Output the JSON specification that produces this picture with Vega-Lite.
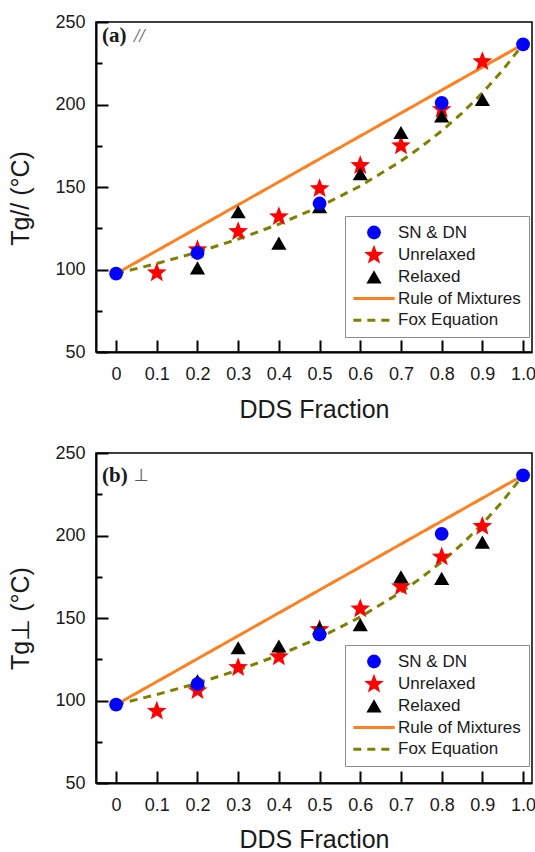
{
  "$schema": "https://vega.github.io/schema/vega-lite/v6.json",
  "background": "white",
  "padding": {"left": 8, "top": 12, "right": 0, "bottom": 0},
  "spacing": 20,
  "config": {
    "view": {"stroke": "black", "strokeWidth": 1.5},
    "axis": {
      "grid": false, "domainColor": "black", "domainWidth": 2,
      "tickColor": "black", "tickWidth": 2,
      "labelFont": "Liberation Sans", "labelFontSize": 18, "labelColor": "#1a1a1a",
      "titleFont": "Liberation Sans", "titleFontSize": 25, "titleFontWeight": "normal", "titleColor": "#1a1a1a",
      "labelFlush": false, "labelOverlap": false
    }
  },
  "resolve": {"scale": {"color": "independent"}, "legend": {"color": "independent"}},
  "datasets": {
    "a": [
      {"x": 0, "series": "Rule of Mixtures", "tg": 97.5},
      {"x": 1.0, "series": "Rule of Mixtures", "tg": 236.5},
      {"x": 0, "series": "Fox Equation", "tg": 97.5},
      {"x": 0.1, "series": "Fox Equation", "tg": 103.6},
      {"x": 0.2, "series": "Fox Equation", "tg": 110.5},
      {"x": 0.3, "series": "Fox Equation", "tg": 118.4},
      {"x": 0.4, "series": "Fox Equation", "tg": 127.5},
      {"x": 0.5, "series": "Fox Equation", "tg": 138.1},
      {"x": 0.6, "series": "Fox Equation", "tg": 150.6},
      {"x": 0.7, "series": "Fox Equation", "tg": 165.7},
      {"x": 0.75, "series": "Fox Equation", "tg": 174.4},
      {"x": 0.8, "series": "Fox Equation", "tg": 184.0},
      {"x": 0.85, "series": "Fox Equation", "tg": 194.8},
      {"x": 0.9, "series": "Fox Equation", "tg": 207.0},
      {"x": 0.95, "series": "Fox Equation", "tg": 220.8},
      {"x": 1.0, "series": "Fox Equation", "tg": 236.5},
      {"x": 0.1, "series": "Unrelaxed", "tg": 98},
      {"x": 0.2, "series": "Unrelaxed", "tg": 112},
      {"x": 0.3, "series": "Unrelaxed", "tg": 123},
      {"x": 0.4, "series": "Unrelaxed", "tg": 132},
      {"x": 0.5, "series": "Unrelaxed", "tg": 149},
      {"x": 0.6, "series": "Unrelaxed", "tg": 163},
      {"x": 0.7, "series": "Unrelaxed", "tg": 175},
      {"x": 0.8, "series": "Unrelaxed", "tg": 197},
      {"x": 0.9, "series": "Unrelaxed", "tg": 226},
      {"x": 0.2, "series": "Relaxed", "tg": 101},
      {"x": 0.3, "series": "Relaxed", "tg": 135},
      {"x": 0.4, "series": "Relaxed", "tg": 116},
      {"x": 0.5, "series": "Relaxed", "tg": 138},
      {"x": 0.6, "series": "Relaxed", "tg": 158},
      {"x": 0.7, "series": "Relaxed", "tg": 183},
      {"x": 0.8, "series": "Relaxed", "tg": 193},
      {"x": 0.9, "series": "Relaxed", "tg": 203},
      {"x": 0, "series": "SN & DN", "tg": 97.5},
      {"x": 0.2, "series": "SN & DN", "tg": 110},
      {"x": 0.5, "series": "SN & DN", "tg": 140},
      {"x": 0.8, "series": "SN & DN", "tg": 201},
      {"x": 1.0, "series": "SN & DN", "tg": 236.5}
    ],
    "b": [
      {"x": 0, "series": "Rule of Mixtures", "tg": 97.5},
      {"x": 1.0, "series": "Rule of Mixtures", "tg": 236.5},
      {"x": 0, "series": "Fox Equation", "tg": 97.5},
      {"x": 0.1, "series": "Fox Equation", "tg": 103.6},
      {"x": 0.2, "series": "Fox Equation", "tg": 110.5},
      {"x": 0.3, "series": "Fox Equation", "tg": 118.4},
      {"x": 0.4, "series": "Fox Equation", "tg": 127.5},
      {"x": 0.5, "series": "Fox Equation", "tg": 138.1},
      {"x": 0.6, "series": "Fox Equation", "tg": 150.6},
      {"x": 0.7, "series": "Fox Equation", "tg": 165.7},
      {"x": 0.75, "series": "Fox Equation", "tg": 174.4},
      {"x": 0.8, "series": "Fox Equation", "tg": 184.0},
      {"x": 0.85, "series": "Fox Equation", "tg": 194.8},
      {"x": 0.9, "series": "Fox Equation", "tg": 207.0},
      {"x": 0.95, "series": "Fox Equation", "tg": 220.8},
      {"x": 1.0, "series": "Fox Equation", "tg": 236.5},
      {"x": 0.1, "series": "Unrelaxed", "tg": 93.5},
      {"x": 0.2, "series": "Unrelaxed", "tg": 106},
      {"x": 0.3, "series": "Unrelaxed", "tg": 120},
      {"x": 0.4, "series": "Unrelaxed", "tg": 126.5},
      {"x": 0.5, "series": "Unrelaxed", "tg": 143},
      {"x": 0.6, "series": "Unrelaxed", "tg": 155.5},
      {"x": 0.7, "series": "Unrelaxed", "tg": 169},
      {"x": 0.8, "series": "Unrelaxed", "tg": 187},
      {"x": 0.9, "series": "Unrelaxed", "tg": 205.5},
      {"x": 0.2, "series": "Relaxed", "tg": 112},
      {"x": 0.3, "series": "Relaxed", "tg": 132},
      {"x": 0.4, "series": "Relaxed", "tg": 133},
      {"x": 0.5, "series": "Relaxed", "tg": 144},
      {"x": 0.6, "series": "Relaxed", "tg": 146},
      {"x": 0.7, "series": "Relaxed", "tg": 175},
      {"x": 0.8, "series": "Relaxed", "tg": 174},
      {"x": 0.9, "series": "Relaxed", "tg": 196},
      {"x": 0, "series": "SN & DN", "tg": 97.5},
      {"x": 0.2, "series": "SN & DN", "tg": 110},
      {"x": 0.5, "series": "SN & DN", "tg": 140},
      {"x": 0.8, "series": "SN & DN", "tg": 201},
      {"x": 1.0, "series": "SN & DN", "tg": 236.5}
    ]
  },
  "vconcat": [
    {
      "width": 436, "height": 330,
      "data": {"name": "a"},
      "resolve": {"axis": {"y": "independent"}},
      "layer": [
        {
          "transform": [{"filter": "datum.series === 'Rule of Mixtures' || datum.series === 'Fox Equation'"}],
          "mark": {"type": "line", "strokeWidth": 3},
          "encoding": {
            "x": {"field": "x", "type": "quantitative",
              "scale": {"domain": [-0.0494, 1.022], "nice": false, "zero": false},
              "axis": {"values": [0, 0.1, 0.2, 0.3, 0.4, 0.5, 0.6, 0.7, 0.8, 0.9, 1.0],
                "labelExpr": "datum.value === 0 ? '0' : format(datum.value, '.1f')",
                "tickSize": -12, "labelPadding": 25.5, "title": "DDS Fraction", "titlePadding": 13.5}},
            "y": {"field": "tg", "type": "quantitative",
              "scale": {"domain": [50, 250], "nice": false, "zero": false},
              "axis": {"orient": "left", "values": [75, 125, 175, 225], "tickSize": -6, "labels": false, "domain": false, "title": null}},
            "color": {"field": "series", "type": "nominal",
              "scale": {"domain": ["SN & DN", "Unrelaxed", "Relaxed", "Rule of Mixtures", "Fox Equation"],
                        "range": ["#0000ff", "#ff0000", "#000000", "#ff8020", "#808000"]},
              "legend": {
                "orient": "none", "legendX": 249, "legendY": 194, "title": null,
                "strokeColor": "#8c8c8c", "fillColor": "white", "padding": 8,
                "labelFont": "Liberation Sans", "labelFontSize": 17, "labelColor": "#1a1a1a",
                "labelOffset": 28, "rowPadding": 3.7, "symbolSize": 190, "symbolStrokeWidth": 3,
                "encode": {"symbols": {"update": {
                  "x": {"value": 21},
                  "shape": {"signal": "datum.value === 'SN & DN' ? 'circle' : datum.value === 'Unrelaxed' ? 'M0,-1.5L0.374,-0.515L1.427,-0.464L0.605,0.197L0.882,1.214L0,0.636L-0.882,1.214L-0.605,0.197L-1.427,-0.464L-0.374,-0.515Z' : datum.value === 'Relaxed' ? 'triangle-up' : 'M-3,0L3,0'"},
                  "size": {"signal": "datum.value === 'Relaxed' ? 230 : 190"},
                  "fill": {"signal": "datum.value === 'SN & DN' ? '#0000ff' : datum.value === 'Unrelaxed' ? '#ff0000' : datum.value === 'Relaxed' ? '#000000' : 'transparent'"},
                  "stroke": {"signal": "datum.value === 'Rule of Mixtures' ? '#ff8020' : datum.value === 'Fox Equation' ? '#808000' : 'transparent'"},
                  "strokeDash": {"signal": "datum.value === 'Fox Equation' ? [8, 6] : [1, 0]"},
                  "strokeWidth": {"signal": "datum.value === 'Rule of Mixtures' || datum.value === 'Fox Equation' ? 3 : 0"},
                  "opacity": {"value": 1}
                }}}
              }},
            "strokeDash": {"field": "series", "type": "nominal",
              "scale": {"domain": ["Rule of Mixtures", "Fox Equation"], "range": [[1, 0], [8, 6]]}, "legend": null}
          }
        },
        {
          "transform": [{"filter": "datum.series === 'Unrelaxed'"}],
          "mark": {"type": "point", "filled": true, "opacity": 1, "color": "#ff0000", "size": 430, "strokeWidth": 0,
                   "shape": "M0,-1L0.249,-0.343L0.951,-0.309L0.403,0.131L0.588,0.809L0,0.424L-0.588,0.809L-0.403,0.131L-0.951,-0.309L-0.249,-0.343Z"},
          "encoding": {
            "x": {"field": "x", "type": "quantitative"},
            "y": {"field": "tg", "type": "quantitative",
              "axis": {"orient": "left", "values": [50, 100, 150, 200, 250], "tickSize": -12, "labelPadding": 23, "title": "Tg// (°C)", "titlePadding": 21, "titleY": 176}}
          }
        },
        {
          "transform": [{"filter": "datum.series === 'Relaxed'"}],
          "mark": {"type": "point", "filled": true, "opacity": 1, "color": "#000000", "size": 230, "strokeWidth": 0, "shape": "triangle-up"},
          "encoding": {
            "x": {"field": "x", "type": "quantitative"},
            "y": {"field": "tg", "type": "quantitative", "axis": null}
          }
        },
        {
          "transform": [{"filter": "datum.series === 'SN & DN'"}],
          "mark": {"type": "point", "filled": true, "opacity": 1, "color": "#0000ff", "size": 190, "strokeWidth": 0, "shape": "circle"},
          "encoding": {
            "x": {"field": "x", "type": "quantitative"},
            "y": {"field": "tg", "type": "quantitative", "axis": null}
          }
        },
        {
          "data": {"values": [{"label": "(a)"}]},
          "mark": {"type": "text", "align": "left", "baseline": "middle", "font": "Liberation Serif", "fontWeight": "bold", "fontSize": 21, "color": "#1a1a1a"},
          "encoding": {
            "x": {"datum": -0.0347},
            "y": {"datum": 241.8, "axis": null},
            "text": {"field": "label"}
          }
        },
        {
          "data": {"values": [{"label": "//"}]},
          "mark": {"type": "text", "align": "left", "baseline": "middle", "font": "Liberation Serif", "fontStyle": "italic", "fontSize": 19, "color": "#555555", "dx": 32},
          "encoding": {
            "x": {"datum": -0.0347},
            "y": {"datum": 241.8, "axis": null},
            "text": {"field": "label"}
          }
        }
      ]
    },
    {
      "width": 436, "height": 330,
      "data": {"name": "b"},
      "resolve": {"axis": {"y": "independent"}},
      "layer": [
        {
          "transform": [{"filter": "datum.series === 'Rule of Mixtures' || datum.series === 'Fox Equation'"}],
          "mark": {"type": "line", "strokeWidth": 3},
          "encoding": {
            "x": {"field": "x", "type": "quantitative",
              "scale": {"domain": [-0.0494, 1.022], "nice": false, "zero": false},
              "axis": {"values": [0, 0.1, 0.2, 0.3, 0.4, 0.5, 0.6, 0.7, 0.8, 0.9, 1.0],
                "labelExpr": "datum.value === 0 ? '0' : format(datum.value, '.1f')",
                "tickSize": -12, "labelPadding": 25.5, "title": "DDS Fraction", "titlePadding": 13}},
            "y": {"field": "tg", "type": "quantitative",
              "scale": {"domain": [50, 250], "nice": false, "zero": false},
              "axis": {"orient": "left", "values": [75, 125, 175, 225], "tickSize": -6, "labels": false, "domain": false, "title": null}},
            "color": {"field": "series", "type": "nominal",
              "scale": {"domain": ["SN & DN", "Unrelaxed", "Relaxed", "Rule of Mixtures", "Fox Equation"],
                        "range": ["#0000ff", "#ff0000", "#000000", "#ff8020", "#808000"]},
              "legend": {
                "orient": "none", "legendX": 249, "legendY": 192, "title": null,
                "strokeColor": "#8c8c8c", "fillColor": "white", "padding": 8,
                "labelFont": "Liberation Sans", "labelFontSize": 17, "labelColor": "#1a1a1a",
                "labelOffset": 28, "rowPadding": 3.7, "symbolSize": 190, "symbolStrokeWidth": 3,
                "encode": {"symbols": {"update": {
                  "x": {"value": 21},
                  "shape": {"signal": "datum.value === 'SN & DN' ? 'circle' : datum.value === 'Unrelaxed' ? 'M0,-1.5L0.374,-0.515L1.427,-0.464L0.605,0.197L0.882,1.214L0,0.636L-0.882,1.214L-0.605,0.197L-1.427,-0.464L-0.374,-0.515Z' : datum.value === 'Relaxed' ? 'triangle-up' : 'M-3,0L3,0'"},
                  "size": {"signal": "datum.value === 'Relaxed' ? 230 : 190"},
                  "fill": {"signal": "datum.value === 'SN & DN' ? '#0000ff' : datum.value === 'Unrelaxed' ? '#ff0000' : datum.value === 'Relaxed' ? '#000000' : 'transparent'"},
                  "stroke": {"signal": "datum.value === 'Rule of Mixtures' ? '#ff8020' : datum.value === 'Fox Equation' ? '#808000' : 'transparent'"},
                  "strokeDash": {"signal": "datum.value === 'Fox Equation' ? [8, 6] : [1, 0]"},
                  "strokeWidth": {"signal": "datum.value === 'Rule of Mixtures' || datum.value === 'Fox Equation' ? 3 : 0"},
                  "opacity": {"value": 1}
                }}}
              }},
            "strokeDash": {"field": "series", "type": "nominal",
              "scale": {"domain": ["Rule of Mixtures", "Fox Equation"], "range": [[1, 0], [8, 6]]}, "legend": null}
          }
        },
        {
          "transform": [{"filter": "datum.series === 'Unrelaxed'"}],
          "mark": {"type": "point", "filled": true, "opacity": 1, "color": "#ff0000", "size": 430, "strokeWidth": 0,
                   "shape": "M0,-1L0.249,-0.343L0.951,-0.309L0.403,0.131L0.588,0.809L0,0.424L-0.588,0.809L-0.403,0.131L-0.951,-0.309L-0.249,-0.343Z"},
          "encoding": {
            "x": {"field": "x", "type": "quantitative"},
            "y": {"field": "tg", "type": "quantitative",
              "axis": {"orient": "left", "values": [50, 100, 150, 200, 250], "tickSize": -12, "labelPadding": 23, "title": "Tg⊥ (°C)", "titlePadding": 21}}
          }
        },
        {
          "transform": [{"filter": "datum.series === 'Relaxed'"}],
          "mark": {"type": "point", "filled": true, "opacity": 1, "color": "#000000", "size": 230, "strokeWidth": 0, "shape": "triangle-up"},
          "encoding": {
            "x": {"field": "x", "type": "quantitative"},
            "y": {"field": "tg", "type": "quantitative", "axis": null}
          }
        },
        {
          "transform": [{"filter": "datum.series === 'SN & DN'"}],
          "mark": {"type": "point", "filled": true, "opacity": 1, "color": "#0000ff", "size": 190, "strokeWidth": 0, "shape": "circle"},
          "encoding": {
            "x": {"field": "x", "type": "quantitative"},
            "y": {"field": "tg", "type": "quantitative", "axis": null}
          }
        },
        {
          "data": {"values": [{"label": "(b)"}]},
          "mark": {"type": "text", "align": "left", "baseline": "middle", "font": "Liberation Serif", "fontWeight": "bold", "fontSize": 21, "color": "#1a1a1a"},
          "encoding": {
            "x": {"datum": -0.0347},
            "y": {"datum": 235.8, "axis": null},
            "text": {"field": "label"}
          }
        },
        {
          "data": {"values": [{"label": "⊥"}]},
          "mark": {"type": "text", "align": "left", "baseline": "middle", "font": "DejaVu Sans", "fontSize": 17, "color": "#555555", "dx": 32},
          "encoding": {
            "x": {"datum": -0.0347},
            "y": {"datum": 235.8, "axis": null},
            "text": {"field": "label"}
          }
        }
      ]
    }
  ]
}
